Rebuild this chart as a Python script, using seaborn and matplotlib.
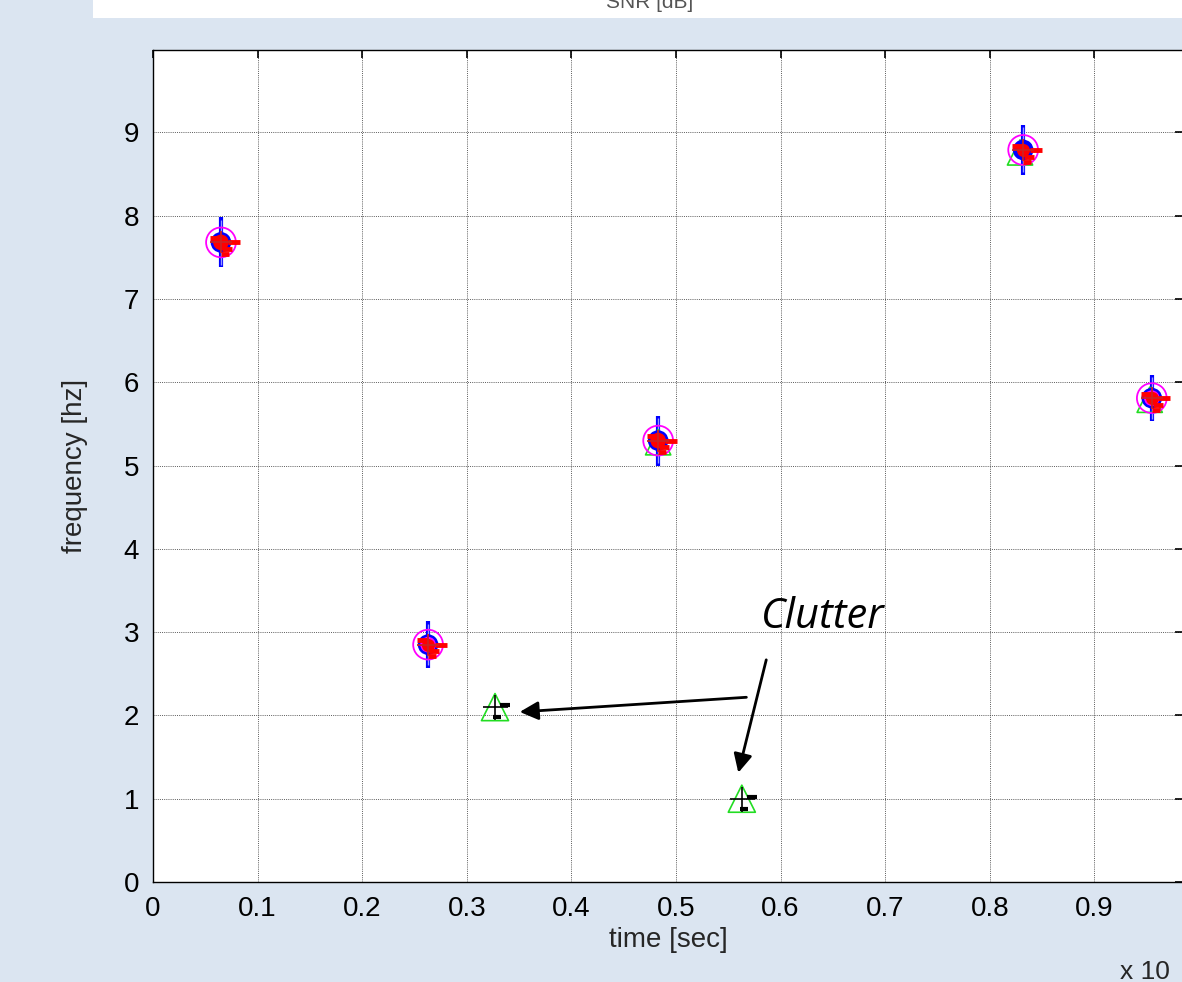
import matplotlib
matplotlib.use("Agg")
import matplotlib.pyplot as plt
import seaborn as sns
import numpy as np
import pandas as pd
from matplotlib.patches import Rectangle

# ---- data ----
target_time = [0.065, 0.263, 0.483, 0.832, 0.955]
target_freq = [7.68, 2.85, 5.30, 8.79, 5.81]
target_err = [0.30, 0.28, 0.30, 0.30, 0.28]
target_fill = ["red", "magenta", "red", "blue", "magenta"]
tri_time = [0.483, 0.829, 0.953]
tri_freq = [5.28, 8.76, 5.79]
clutter_time = [0.327, 0.563]
clutter_freq = [2.10, 1.00]
xticks = [0, 0.1, 0.2, 0.3, 0.4, 0.5, 0.6, 0.7, 0.8, 0.9]
yticks = [0, 1, 2, 3, 4, 5, 6, 7, 8, 9]

sns.set_style("white")
plt.rcParams['font.family'] = ['Liberation Sans', 'DejaVu Sans']

fig = plt.figure(figsize=(11.82, 9.82), dpi=100)
fig.patch.set_facecolor("#dbe5f1")
fig.patches.append(Rectangle((93/1182, 1-18/982), 1, 18/982, transform=fig.transFigure,
                             facecolor="white", edgecolor="none", zorder=0))
fig.text(0.55, 1 - 3/982, "SNR [dB]", ha="center", va="center", fontsize=15, color="#555555")

ax = fig.add_axes([153/1182, 1-882/982, 1-153/1182 + 0.001, (882-50)/982])
ax.set_facecolor("white")

df_t = pd.DataFrame({"t": target_time, "f": target_freq})
df_tri = pd.DataFrame({"t": tri_time, "f": tri_freq})
df_c = pd.DataFrame({"t": clutter_time, "f": clutter_freq})

# blue vertical uncertainty bars
ax.errorbar(target_time, target_freq, yerr=target_err, fmt="none", ecolor="blue",
            elinewidth=3, capsize=0, zorder=3)
ax.errorbar(target_time, target_freq, yerr=[e - 0.03 for e in target_err], fmt="none",
            ecolor="#9999ff", elinewidth=1, capsize=0, zorder=3)
# green triangles
sns.scatterplot(data=df_tri, x="t", y="f", marker="^", s=330, facecolors="none",
                edgecolor="#22dd22", linewidth=1.2, ax=ax, zorder=4)
sns.scatterplot(data=df_c, x="t", y="f", marker="^", s=380, facecolors="none",
                edgecolor="#22dd22", linewidth=1.2, ax=ax, zorder=4)
# clutter black cross marks
ax.plot(clutter_time, clutter_freq, marker="+", markersize=18, color="black",
        linestyle="none", markeredgewidth=1.2, zorder=5)
ax.plot([t + 0.010 for t in clutter_time], [f + 0.02 for f in clutter_freq], marker="_",
        markersize=7, color="black", linestyle="none", markeredgewidth=3, zorder=5)
ax.plot([t + 0.002 for t in clutter_time], [f - 0.12 for f in clutter_freq], marker="_",
        markersize=6, color="black", linestyle="none", markeredgewidth=3, zorder=5)
# magenta open circles
sns.scatterplot(data=df_t, x="t", y="f", marker="o", s=460, facecolors="none",
                edgecolor="magenta", linewidth=1.3, ax=ax, zorder=5)
# filled dots
ax.scatter(target_time, target_freq, s=170, c=target_fill, edgecolors="blue",
           linewidths=1.8, zorder=6)
ax.scatter(target_time, target_freq, s=70, c="red", marker="o", zorder=6)
# red short dashes (measurement pieces)
for dx, dy, ms in [(0.012, 0.0, 9), (0.006, -0.08, 7), (0.004, -0.14, 6), (-0.006, 0.05, 7)]:
    ax.plot([t + dx for t in target_time], [f + dy for f in target_freq], marker="_",
            markersize=ms, color="red", linestyle="none", markeredgewidth=3.5, zorder=7)
ax.plot(target_time, target_freq, marker="+", markersize=16, color="#cc2222",
        linestyle="none", markeredgewidth=1.3, zorder=7)

ax.set_xlim(0, 0.985)
ax.set_ylim(0, 9.99)
ax.set_xticks(xticks)
ax.set_xticklabels([f"{v:g}" for v in xticks])
ax.set_yticks(yticks)
ax.set_yticklabels([str(v) for v in yticks])
ax.grid(True, color="#333333", linestyle=(0, (1, 1.2)), linewidth=0.7, alpha=0.8)
ax.tick_params(direction="in", length=6, width=1.2, top=True, right=True, labelsize=20,
               colors="black", pad=10)
for s in ax.spines.values():
    s.set_color("black")
    s.set_linewidth(1.0)
ax.set_xlabel("time [sec]", fontsize=20, labelpad=4)
ax.set_ylabel("frequency [hz]", fontsize=20, labelpad=26)

ax.annotate("", xy=(0.348, 2.04), xytext=(0.57, 2.22),
            arrowprops=dict(arrowstyle="-|>", color="black", lw=2, mutation_scale=28))
ax.annotate("", xy=(0.559, 1.28), xytext=(0.587, 2.70),
            arrowprops=dict(arrowstyle="-|>", color="black", lw=2, mutation_scale=28))
ax.text(0.64, 3.18, "Clutter", fontsize=30, fontstyle="italic", ha="center", va="center",
        color="black", family=["Open Sans", "DejaVu Sans"])

fig.text(1120/1182, 1-972/982, "x 10", fontsize=19, ha="left", va="center")

fig.savefig("out.png", dpi=100, facecolor=fig.get_facecolor())
